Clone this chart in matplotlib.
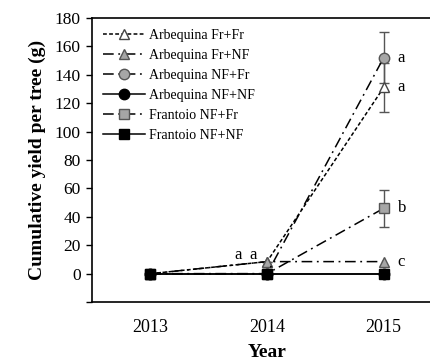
import matplotlib
matplotlib.use("Agg")
import matplotlib.pyplot as plt

plt.rcParams["font.family"] = ["Liberation Serif", "DejaVu Serif"]

years = [2013, 2014, 2015]
series_names = [
    "Arbequina Fr+Fr",
    "Arbequina Fr+NF",
    "Arbequina NF+Fr",
    "Arbequina NF+NF",
    "Frantoio NF+Fr",
    "Frantoio NF+NF",
]
arbequina_fr_fr = [0, 8.5, 131]
arbequina_fr_nf = [0, 8.5, 8.5]
arbequina_nf_fr = [0, 0, 152]
arbequina_nf_nf = [0, 0, 0]
frantoio_nf_fr = [0, 0, 46]
frantoio_nf_nf = [0, 0, 0]

err_fr_fr = [0, 0, 17]
err_fr_nf = [0, 0, 0]
err_nf_fr = [0, 0, 18]
err_nf_nf = [0, 0, 0]
err_fr_nf_frantoio = [0, 0, 13]
err_nf_nf_frantoio = [0, 0, 0]

letters_2015 = ["a", "c", "a", None, "b", None]
letters_2014 = ["a", "a"]

yticks = [-20, 0, 20, 40, 60, 80, 100, 120, 140, 160, 180]
ytick_labels = ["", "0", "20", "40", "60", "80", "100", "120", "140", "160", "180"]

values = [arbequina_fr_fr, arbequina_fr_nf, arbequina_nf_fr,
          arbequina_nf_nf, frantoio_nf_fr, frantoio_nf_nf]
errors = [err_fr_fr, err_fr_nf, err_nf_fr, err_nf_nf,
          err_fr_nf_frantoio, err_nf_nf_frantoio]

dashdot = (0, (7, 3, 1.2, 3))
styles = [
    dict(ls=(0, (2.5, 1.5)), marker="^", mfc="white", mec="#444444", ms=7.5),
    dict(ls=dashdot, marker="^", mfc="#a6a6a6", mec="#555555", ms=7.5),
    dict(ls=dashdot, marker="o", mfc="#a6a6a6", mec="#555555", ms=7.5),
    dict(ls="-", marker="o", mfc="black", mec="black", ms=7.5),
    dict(ls=dashdot, marker="s", mfc="#a6a6a6", mec="#555555", ms=7),
    dict(ls="-", marker="s", mfc="black", mec="black", ms=7),
]

fig = plt.figure(figsize=(4.30, 3.64), dpi=100)
ax = fig.add_axes([0.214, 0.170, 0.814, 0.781])

for i, (name, vals, errs, st) in enumerate(zip(series_names, values, errors, styles)):
    if any(errs):
        ax.errorbar(years, vals, yerr=errs, fmt="none", ecolor="#555555",
                    elinewidth=1.0, capsize=3.5, capthick=1.0, zorder=2 + i * 0.1)
    ax.plot(years, vals, color="black", lw=1.1, label=name,
            zorder=3 + i * 0.1, **st)

for vals, letter in zip(values, letters_2015):
    if letter:
        ax.annotate(letter, (years[2], vals[2]), xytext=(10, 0),
                    textcoords="offset points", va="center", ha="left",
                    fontsize=12)

ax.annotate(letters_2014[0], (years[1], arbequina_fr_fr[1]), xytext=(-21, 5),
            textcoords="offset points", va="center", ha="center", fontsize=12)
ax.annotate(letters_2014[1], (years[1], arbequina_fr_nf[1]), xytext=(-10, 5),
            textcoords="offset points", va="center", ha="center", fontsize=12)

ax.set_xlim(2012.5, 2015.5)
ax.set_ylim(-20, 180)
ax.set_xticks(years)
ax.set_xticklabels([str(y) for y in years], fontsize=13)
ax.set_yticks(yticks)
ax.set_yticklabels(ytick_labels, fontsize=12.5)
ax.tick_params(axis="x", length=0, pad=12)
ax.tick_params(axis="y", direction="out", length=4, width=1.0, pad=4)
ax.spines["right"].set_visible(False)
for sp in ["left", "bottom", "top"]:
    ax.spines[sp].set_linewidth(1.2)
ax.set_xlabel("Year", fontsize=14, fontweight="bold", labelpad=6)
ax.set_ylabel("Cumulative yield per tree (g)", fontsize=14, fontweight="bold",
              labelpad=6)

ax.legend(loc="upper left", bbox_to_anchor=(0.0, 1.0), frameon=False,
          fontsize=10, handlelength=3.0, handletextpad=0.3, labelspacing=0.5,
          numpoints=1, borderaxespad=0.4)

fig.savefig("out.png", dpi=100)
